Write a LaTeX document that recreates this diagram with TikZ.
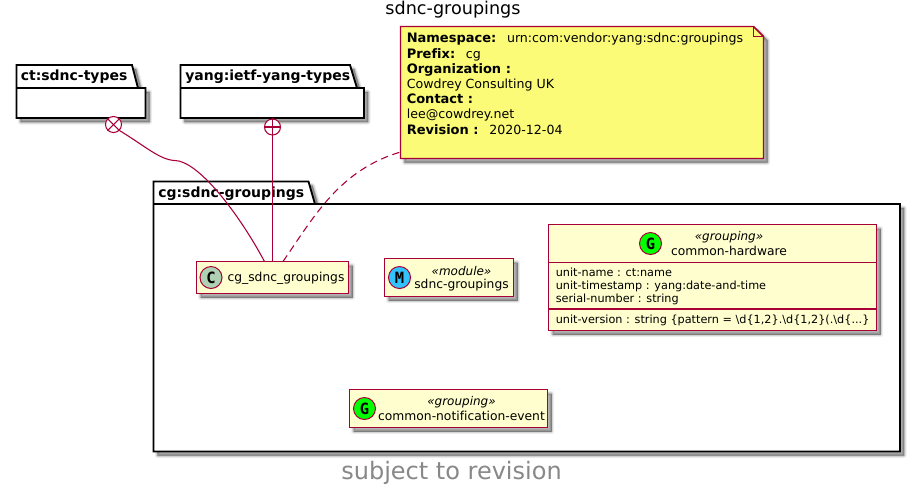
\documentclass[tikz,border=0pt]{standalone}
\usepackage{fontspec}
\setmainfont[Ligatures=NoCommon]{DejaVu Sans}
\newfontfamily\monob[Ligatures=NoCommon]{DejaVu Sans Mono Bold}
\usetikzlibrary{calc}
\definecolor{umlred}{HTML}{A80036}
\definecolor{umlfill}{HTML}{FEFECE}
\definecolor{notefill}{HTML}{FBFB77}
\definecolor{cbadge}{HTML}{ADD1B2}
\definecolor{mbadge}{HTML}{32C3FF}
\definecolor{gbadge}{HTML}{00FF00}
\definecolor{footgray}{HTML}{888888}
\newcommand{\setpx}[2]{\fontsize{\dimexpr#1pt*3/4\relax}{\dimexpr#2pt*3/4\relax}\selectfont}
\newcommand{\nb}[1]{{\fontsize{9.75pt}{11.4pt}\selectfont\bfseries #1}}
\newcommand{\frameit}[1]{\draw[frameline] (#1.north west) rectangle (#1.south east);}
\tikzset{
  softshadow/.style={
    preaction={draw=black,fill=black,opacity=.07,line width=3.8pt,line join=round,transform canvas={xshift=3pt,yshift=-3pt}},
    preaction={draw=black,fill=black,opacity=.10,line width=2.3pt,line join=round,transform canvas={xshift=3pt,yshift=-3pt}},
    preaction={draw=black,fill=black,opacity=.15,line width=.9pt,line join=round,transform canvas={xshift=3pt,yshift=-3pt}}},
  boxsize/.style 2 args={minimum width=#1*0.75pt,minimum height=#2*0.75pt},
  plainbox/.style={inner sep=0pt,outer sep=0pt},
  pkgline/.style={draw=black,line width=1.4pt,fill=white,line join=miter,softshadow},
  pkgtext/.style={inner sep=0pt,anchor=base west,font=\setpx{14}{16}\bfseries},
  classbox/.style={plainbox,fill=umlfill,softshadow},
  frameline/.style={draw=umlred,line width=1.4pt},
  badge/.style={circle,draw=umlred,line width=.75pt,inner sep=0pt,minimum size=16.5pt,font=\monob\setpx{15.5}{17}},
  classname/.style={inner sep=0pt,font=\setpx{12.3}{15}},
  stereo/.style={inner sep=0pt,font=\setpx{12}{14}\itshape},
  member/.style={inner sep=0pt,anchor=base west,font=\setpx{11.25}{13}},
  sepline/.style={draw=umlred,line width=1.2pt},
  link/.style={draw=umlred,line width=.8pt},
  marker/.style={circle,draw=umlred,line width=.8pt,inner sep=0pt,minimum size=12pt,fill=white},
}
\begin{document}
\begin{tikzpicture}[x=0.75pt,y=-0.75pt]
\useasboundingbox (0,0) rectangle (916,487);
\fill[white] (0,0) rectangle (916,487);

% title and footer
\node[inner sep=0pt,font=\setpx{17.6}{21}] (title) at (453,10) {sdnc-groupings};
\node[inner sep=0pt,font=\setpx{24}{28},text=footgray] (footer) at (451.5,472.5) {subject to revision};

% packages
\node[plainbox,boxsize={129}{30}] (ct) at (81,103) {};
\path[pkgline] (ct.south west) -- (16.5,65) -- (132,65) -- (138,88) -- (ct.north east) -- (ct.south east) -- cycle;
\draw[line width=1.4pt] (ct.north west) -- (ct.north east);
\node[pkgtext] (cttext) at (20.5,80.5) {ct:sdnc-types};

\node[plainbox,boxsize={183.5}{30}] (yang) at (272.25,103) {};
\path[pkgline] (yang.south west) -- (180.5,65) -- (350,65) -- (357,88) -- (yang.north east) -- (yang.south east) -- cycle;
\draw[line width=1.4pt] (yang.north west) -- (yang.north east);
\node[pkgtext] (yangtext) at (185,80.5) {yang:ietf-yang-types};

\node[plainbox,boxsize={746.5}{247.5}] (cg) at (526.75,327.75) {};
\path[pkgline] (cg.south west) -- (153.5,181.5) -- (308.5,181.5) -- (315,204) -- (cg.north east) -- (cg.south east) -- cycle;
\draw[line width=1.4pt] (cg.north west) -- (cg.north east);
\node[pkgtext] (cgtext) at (158,197) {cg:sdnc-groupings};

% note
\node[plainbox,boxsize={363}{132}] (note) at (582,92.5) {};
\path[draw=umlred,line width=1.1pt,fill=notefill,softshadow]
  (note.north west) -- (753.5,26.5) -- (763.5,36.5) -- (note.south east) -- (note.south west) -- cycle;
\draw[umlred,line width=.8pt] (753.5,26.5) -- (753.5,36.5) -- (763.5,36.5);
\node[inner sep=0pt,anchor=north west,align=left,font=\setpx{12.6}{15.2}] (notetext) at (406.5,33) {%
  \nb{Namespace:}\hspace{0.85em}urn:com:vendor:yang:sdnc:groupings\\
  \nb{Prefix:}\hspace{0.85em}cg\\
  \nb{Organization :}\\
  Cowdrey Consulting UK\\
  \nb{Contact :}\\
  lee@cowdrey.net\\
  \nb{Revision :}\hspace{0.85em}2020-12-04};

% classes
\node[classbox,boxsize={152}{32}] (cgclass) at (272.5,277.5) {};
\frameit{cgclass}
\node[badge,fill=cbadge] (cgbadge) at (211,277.5) {C};
\node[classname] (cgname) at (286,278) {cg\_sdnc\_groupings};

\node[classbox,boxsize={129}{38}] (mod) at (449,277.5) {};
\frameit{mod}
\node[badge,fill=mbadge] (modbadge) at (399.5,277.5) {M};
\node[stereo] (modst) at (461.5,271) {«module»};
\node[classname] (modname) at (461.5,285) {sdnc-groupings};

\node[classbox,boxsize={328}{106}] (hw) at (712.5,277.5) {};
\frameit{hw}
\node[badge,fill=gbadge] (hwbadge) at (650.5,243.5) {G};
\node[stereo] (hwst) at (729,237) {«grouping»};
\node[classname] (hwname) at (729,251) {common-hardware};
\draw[sepline] (hw.west |- 0,262.5) -- (hw.east |- 0,262.5);
\draw[sepline] (hw.west |- 0,309) -- (hw.east |- 0,309);
\node[member] (m1) at (555.5,276.5) {unit-name : ct:name};
\node[member] (m2) at (555.5,289.5) {unit-timestamp : yang:date-and-time};
\node[member] (m3) at (555.5,302.5) {serial-number : string};
\node[member] (m4) at (555.5,323.5) {unit-version : string \{pattern = \textbackslash d\{1,2\}.\textbackslash d\{1,2\}(.\textbackslash d\{...\}};

\node[classbox,boxsize={198}{38}] (ne) at (448.5,408.5) {};
\frameit{ne}
\node[badge,fill=gbadge] (nebadge) at (364.5,408.5) {G};
\node[stereo] (nest) at (461.5,402) {«grouping»};
\node[classname] (nename) at (461.5,416) {common-notification-event};

% connectors
\node[marker] (xmark) at (113.5,124.5) {};
\draw[link] (xmark.north east) -- (xmark.south west);
\draw[link] (xmark.north west) -- (xmark.south east);
\node[marker] (pmark) at (272.5,127) {};
\draw[link] (pmark.north) -- (pmark.south);
\draw[link] (pmark.west) -- (pmark.east);
\draw[link] (xmark.south east) .. controls (145,146) and (160,160) .. (175,160.5)
  .. controls (198,161) and (238,212) .. ($(cgclass.north)+(-8,0)$);
\draw[link] (pmark.south) -- (cgclass.north);
\draw[link,dashed,dash pattern=on 5.5pt off 3.5pt] ($(cgclass.north)+(10.5,0)$) .. controls (315,215) and (340,170) .. ($(note.south west)+(0,-6.5)$);
\end{tikzpicture}
\end{document}
